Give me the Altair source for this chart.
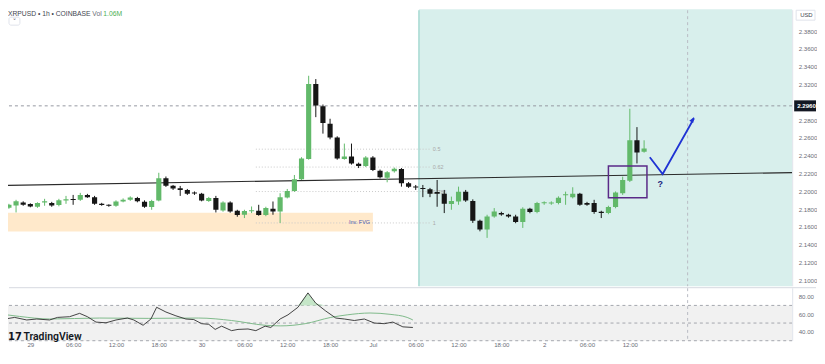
import altair as alt
import pandas as pd

# ---------------- data ----------------
TICK_HOURS = [0, 6, 12, 18, 24, 30, 36, 42, 48, 54, 60, 66, 72, 78, 84]  # hours since 29 Jun 00:00
TICK_LABELS = ["29", "06:00", "12:00", "18:00", "30", "06:00", "12:00", "18:00",
               "Jul", "06:00", "12:00", "18:00", "2", "06:00", "12:00"]

FIRST_HOUR = -4  # first candle: 28 Jun 20:00
OPEN = [2.1856, 2.1814, 2.1840, 2.1874, 2.1856, 2.1826, 2.1875, 2.1867, 2.1845, 2.1897,
        2.1904, 2.1904, 2.1959, 2.1934, 2.1859, 2.1848, 2.1837, 2.1885, 2.1904, 2.1923,
        2.1881, 2.1822, 2.1896, 2.2146, 2.2063, 2.2034, 2.2015, 2.1985, 2.1971, 2.1892,
        2.1923, 2.1784, 2.1874, 2.1781, 2.1736, 2.1775, 2.1781, 2.1733, 2.1803, 2.1773,
        2.1929, 2.2004, 2.2135, 2.2364, 2.3206, 2.2956, 2.2759, 2.2603, 2.2364, 2.2391,
        2.2309, 2.2283, 2.2380, 2.2231, 2.2152, 2.2224, 2.2249, 2.2090, 2.2045, 2.2038,
        2.2023, 2.1993, 2.1971, 2.1856, 2.1885, 2.1996, 2.1892, 2.1669, 2.1569, 2.1717,
        2.1755, 2.1736, 2.1717, 2.1655, 2.1803, 2.1766, 2.1866, 2.1862, 2.1867, 2.1955,
        2.1934, 2.1971, 2.1867, 2.1867, 2.1770, 2.1755, 2.1822, 2.1978, 2.2119, 2.2573,
        2.2443]
HIGH = [2.1870, 2.1859, 2.1904, 2.1887, 2.1865, 2.1876, 2.1915, 2.1881, 2.1915, 2.1948,
        2.1959, 2.1982, 2.1971, 2.1948, 2.1870, 2.1853, 2.1898, 2.1920, 2.1943, 2.1937,
        2.1898, 2.1904, 2.2208, 2.2166, 2.2071, 2.2060, 2.2026, 2.1998, 2.1982, 2.1937,
        2.1948, 2.1887, 2.1887, 2.1792, 2.1792, 2.1829, 2.1848, 2.1826, 2.1885, 2.1978,
        2.2026, 2.2183, 2.2383, 2.3298, 2.3261, 2.2975, 2.2815, 2.2618, 2.2536, 2.2536,
        2.2322, 2.2395, 2.2395, 2.2244, 2.2227, 2.2266, 2.2261, 2.2104, 2.2071, 2.2071,
        2.2038, 2.2127, 2.2015, 2.1940, 2.2052, 2.2015, 2.1909, 2.1681, 2.1736, 2.1811,
        2.1770, 2.1747, 2.1736, 2.1820, 2.1814, 2.1881, 2.1887, 2.1887, 2.1943, 2.1996,
        2.2045, 2.1982, 2.1881, 2.1904, 2.1781, 2.1837, 2.1998, 2.2164, 2.2927, 2.2721,
        2.2573]
LOW = [2.1803, 2.1803, 2.1762, 2.1837, 2.1820, 2.1814, 2.1837, 2.1826, 2.1831, 2.1859,
       2.1848, 2.1892, 2.1926, 2.1848, 2.1837, 2.1826, 2.1826, 2.1876, 2.1892, 2.1876,
       2.1814, 2.1792, 2.1887, 2.2049, 2.2015, 2.1948, 2.1959, 2.1959, 2.1887, 2.1881,
       2.1762, 2.1770, 2.1759, 2.1714, 2.1699, 2.1755, 2.1725, 2.1720, 2.1736, 2.1644,
       2.1920, 2.1993, 2.2127, 2.2355, 2.2833, 2.2648, 2.2584, 2.2355, 2.2355, 2.2300,
       2.2261, 2.2272, 2.2227, 2.2144, 2.2101, 2.2210, 2.2052, 2.2038, 2.2015, 2.1934,
       2.1934, 2.1826, 2.1755, 2.1792, 2.1848, 2.1881, 2.1644, 2.1550, 2.1476, 2.1703,
       2.1725, 2.1703, 2.1641, 2.1588, 2.1753, 2.1753, 2.1848, 2.1848, 2.1853, 2.1848,
       2.1920, 2.1837, 2.1837, 2.1747, 2.1699, 2.1742, 2.1809, 2.1959, 2.2104, 2.2313,
       2.2434]
CLOSE = [2.1818, 2.1848, 2.1889, 2.1848, 2.1829, 2.1867, 2.1880, 2.1840, 2.1900, 2.1900,
         2.1902, 2.1959, 2.1934, 2.1859, 2.1845, 2.1837, 2.1885, 2.1904, 2.1929, 2.1889,
         2.1826, 2.1892, 2.2146, 2.2063, 2.2030, 2.2015, 2.1971, 2.1974, 2.1896, 2.1923,
         2.1792, 2.1874, 2.1773, 2.1733, 2.1778, 2.1778, 2.1733, 2.1811, 2.1773, 2.1934,
         2.2004, 2.2135, 2.2369, 2.3206, 2.2963, 2.2766, 2.2603, 2.2369, 2.2391, 2.2313,
         2.2283, 2.2380, 2.2238, 2.2157, 2.2213, 2.2253, 2.2090, 2.2052, 2.2043, 2.2026,
         2.1971, 2.1971, 2.1859, 2.1892, 2.1996, 2.1896, 2.1669, 2.1569, 2.1717, 2.1773,
         2.1740, 2.1717, 2.1655, 2.1803, 2.1766, 2.1867, 2.1868, 2.1874, 2.1926, 2.1958,
         2.1971, 2.1848, 2.1848, 2.1766, 2.1755, 2.1822, 2.1985, 2.2127, 2.2573, 2.2436,
         2.2480]

PRICE_TICKS = [2.10, 2.12, 2.14, 2.16, 2.18, 2.20, 2.22, 2.24, 2.26, 2.28, 2.32, 2.34, 2.36, 2.38]
LAST_PRICE = 2.2960
LAST_LABEL = "2.2960"

TREND_H = [-4.25, 106.75]
TREND_P = [2.2065, 2.2210]

FVG_H = [-4.25, 48.0]
FVG_P = [2.1547, 2.1759]
FVG_LABEL = "Inv. FVG"
FVG_LABEL_AT = [47.6, 2.1658]

FIB_LEVELS = ["0.5", "0.62", "0.786", "1"]
FIB_PRICES = [2.2473, 2.2272, 2.1997, 2.1644]
FIB_H = [31.6, 56.0]
FIB_LABEL_H = 56.4

ZONE_START_H = 54.45
VLINE_H = 92.1

BOX_H = [81.0, 86.4]
BOX_P = [2.1926, 2.2283]

ARROW_H = [86.8, 88.6, 93.0]
ARROW_P = [2.2383, 2.2194, 2.2820]
ARROW_HEAD = [92.75, 2.2800]
QMARK_AT = [88.25, 2.2082]

HEADER = "XRPUSD • 1h • COINBASE"
VOL_LABEL = "Vol"
VOL_VALUE = "1.06M"

RSI_H = [-4.0, -2.2, -0.5, 0.9, 2.7, 3.8, 5.5, 6.9, 8.0, 9.2, 10.6, 12.0, 13.6, 14.5, 15.8,
         16.9, 17.7, 19.0, 20.4, 21.8, 22.9, 24.0, 25.0, 25.9, 26.8, 28.2, 29.1, 30.5, 31.6,
         32.9, 33.7, 35.0, 36.1, 37.5, 38.9, 40.0, 41.4, 42.8, 44.0, 45.4, 46.8, 48.2, 49.6,
         50.8, 52.2, 53.6]
RSI_V = [54.0, 56.4, 53.5, 54.6, 53.5, 56.4, 57.2, 61.0, 57.2, 51.1, 50.3, 53.5, 55.7, 53.5,
         47.5, 54.6, 67.9, 62.5, 58.2, 54.6, 54.0, 49.3, 48.6, 42.8, 46.5, 41.4, 42.8, 43.3,
         41.4, 46.5, 45.0, 54.6, 59.3, 67.9, 84.2, 72.5, 63.6, 55.7, 54.6, 52.9, 54.6, 50.0,
         49.3, 51.1, 45.7, 45.0]
MA_H = [-4.0, -1.5, 2.7, 9.7, 16.6, 23.6, 28.2, 32.9, 35.1, 38.5, 42.1, 44.4, 47.6, 50.4, 52.8, 53.6]
MA_V = [60.0, 57.5, 54.6, 55.7, 55.3, 55.7, 52.9, 47.5, 46.8, 49.3, 56.4, 59.3, 61.4, 59.9, 56.4, 53.5]
RSI_TICKS = [40, 60, 80]
RSI_LEVELS = [70, 50, 30]
RSI_UPPER = 70
RSI_LOWER = 30

# ---------------- layout / style ----------------
W, H1, H2 = 790, 279, 54
X_DOMAIN = [-3.129, 106.75]
P_DOMAIN = [2.09331, 2.40456]
R_DOMAIN = [29.9, 90.64]
FONT = "Liberation Sans"
GREEN = "#62b96a"
BLACK = "#161616"
TEAL = "#d8efec"
TEAL_EDGE = "#86cbc1"
FVG_FILL = "#ffe9cb"
PURPLE = "#5a2a88"
BLUE = "#1f33d4"
NAVY = "#1c2580"
AXIS_TXT = "#6b6e78"
GRID = "#e0e3eb"

xs = alt.Scale(domain=X_DOMAIN, nice=False, zero=False)
ps = alt.Scale(domain=P_DOMAIN, nice=False, zero=False)
rs = alt.Scale(domain=R_DOMAIN, nice=False, zero=False)

label_expr = "[" + ",".join("'" + s + "'" for s in TICK_LABELS) + "][round(datum.value / 6)]"
x_axis = alt.Axis(values=TICK_HOURS, labelExpr=label_expr, ticks=False, tickSize=0, domain=False,
                  grid=False, labelFontSize=6.2, labelColor=AXIS_TXT, labelFont=FONT, labelPadding=1,
                  labelFlush=False, labelOverlap=False, title=None)
price_axis = alt.Axis(orient="right", values=PRICE_TICKS, format=".4f", labelFontSize=6.2,
                      labelColor=AXIS_TXT, labelFont=FONT, ticks=False, tickSize=0, domain=False,
                      grid=False, labelPadding=6, labelFlush=False, labelOverlap=False, title=None)
rsi_axis = alt.Axis(orient="right", values=RSI_TICKS, format=".2f", labelFontSize=6.2,
                    labelColor=AXIS_TXT, labelFont=FONT, ticks=False, tickSize=0, domain=False,
                    grid=False, labelPadding=6, labelFlush=False, labelOverlap=False, title=None)


def XP(f):  # x in the price pane (no axis)
    return alt.X(f, type="quantitative", scale=xs, axis=None)


def XR(f):  # x in the RSI pane (time axis)
    return alt.X(f, type="quantitative", scale=xs, axis=x_axis)


def P(f):
    return alt.Y(f, type="quantitative", scale=ps, axis=price_axis)


def R(f):
    return alt.Y(f, type="quantitative", scale=rs, axis=rsi_axis)


candles = pd.DataFrame({"h": [FIRST_HOUR + i for i in range(len(OPEN))],
                        "o": OPEN, "hi": HIGH, "lo": LOW, "c": CLOSE})
candles["dir"] = ["up" if c >= o else "down" for o, c in zip(OPEN, CLOSE)]
dir_color = alt.Color("dir:N", scale=alt.Scale(domain=["up", "down"], range=[GREEN, BLACK]), legend=None)

zone = alt.Chart(pd.DataFrame({"h": [ZONE_START_H]})).mark_rect(color=TEAL).encode(
    x=XP("h"), x2=alt.value(W), y=alt.value(0), y2=alt.value(H1))
zone_edge = alt.Chart(pd.DataFrame({"h": [ZONE_START_H]})).mark_rule(color=TEAL_EDGE, strokeWidth=1).encode(
    x=XP("h"), y=alt.value(1), y2=alt.value(H1))

fvg = alt.Chart(pd.DataFrame({"h1": [FVG_H[0]], "h2": [FVG_H[1]], "p1": [FVG_P[0]], "p2": [FVG_P[1]]})
                ).mark_rect(color=FVG_FILL, clip=True).encode(x=XP("h1"), x2="h2:Q", y=P("p1"), y2="p2:Q")
fvg_lab = alt.Chart(pd.DataFrame({"h": [FVG_LABEL_AT[0]], "p": [FVG_LABEL_AT[1]], "t": [FVG_LABEL]})
                    ).mark_text(align="right", baseline="middle", fontSize=5.5, color="#4657b0", font=FONT
                                ).encode(x=XP("h"), y=P("p"), text="t:N")

fib_df = pd.DataFrame({"p": FIB_PRICES, "t": FIB_LEVELS, "h1": FIB_H[0], "h2": FIB_H[1], "hl": FIB_LABEL_H})
fib_lines = alt.Chart(fib_df).mark_rule(color="#c9c9c9", strokeDash=[1, 2], strokeWidth=1).encode(
    x=XP("h1"), x2="h2:Q", y=P("p"))
fib_labels = alt.Chart(fib_df).mark_text(align="left", baseline="middle", fontSize=5.5, color="#a8a8a8",
                                         font=FONT).encode(x=XP("hl"), y=P("p"), text="t:N")

last_line = alt.Chart(pd.DataFrame({"p": [LAST_PRICE]})).mark_rule(
    color="#9598a1", strokeDash=[3, 3], strokeWidth=1).encode(
    y=P("p"), x=alt.value(1), x2=alt.value(W))
vline = alt.Chart(pd.DataFrame({"h": [VLINE_H]})).mark_rule(
    color="#b8bbc4", strokeDash=[3, 3], strokeWidth=1).encode(x=XP("h"), y=alt.value(1), y2=alt.value(H1))

trend = alt.Chart(pd.DataFrame({"h": TREND_H, "p": TREND_P})).mark_line(
    color="#2b2b2b", strokeWidth=1.1, clip=True).encode(x=XP("h"), y=P("p"))

wicks = alt.Chart(candles).mark_rule(strokeWidth=1, clip=True).encode(
    x=XP("h"), y=P("lo"), y2="hi:Q", color=dir_color)
bodies = alt.Chart(candles).transform_calculate(
    x1="datum.h - 0.36", x2="datum.h + 0.36",
    top="max(datum.o, datum.c, min(datum.o, datum.c) + 0.0012)",
    bot="min(datum.o, datum.c)").mark_rect(clip=True).encode(
    x=XP("x1"), x2="x2:Q", y=P("bot"), y2="top:Q", color=dir_color)

box = alt.Chart(pd.DataFrame({"h1": [BOX_H[0]], "h2": [BOX_H[1]], "p1": [BOX_P[0]], "p2": [BOX_P[1]]})
                ).mark_rect(fillOpacity=0, stroke=PURPLE, strokeWidth=1.5).encode(
    x=XP("h1"), x2="h2:Q", y=P("p1"), y2="p2:Q")

arrow = alt.Chart(pd.DataFrame({"h": ARROW_H, "p": ARROW_P, "k": [0, 1, 2]})).mark_line(
    color=BLUE, strokeWidth=1.8).encode(x=XP("h"), y=P("p"), order="k:Q")
arrow_head = alt.Chart(pd.DataFrame({"h": [ARROW_HEAD[0]], "p": [ARROW_HEAD[1]]})).mark_point(
    shape="M0,-1L0.6,0.55L-0.6,0.55Z", angle=30, size=55, filled=True, color=BLUE, opacity=1).encode(
    x=XP("h"), y=P("p"))
qmark = alt.Chart(pd.DataFrame({"h": [QMARK_AT[0]], "p": [QMARK_AT[1]], "t": ["?"]})).mark_text(
    fontSize=9, fontWeight="bold", color=NAVY, font=FONT, baseline="middle").encode(
    x=XP("h"), y=P("p"), text="t:N")

last_box = alt.Chart(pd.DataFrame({"p": [LAST_PRICE]})).transform_calculate(
    a="datum.p + 0.0062", b="datum.p - 0.0062").mark_rect(color="#131722").encode(
    x=alt.value(W + 2), x2=alt.value(W + 24), y=P("a"), y2="b:Q")
last_txt = alt.Chart(pd.DataFrame({"p": [LAST_PRICE], "t": [LAST_LABEL]})).mark_text(
    align="left", baseline="middle", fontSize=6.2, fontWeight="bold", color="white", font=FONT).encode(
    x=alt.value(W + 5), y=P("p"), text="t:N")

usd_box = alt.Chart(pd.DataFrame({"t": ["USD"]})).mark_rect(
    fillOpacity=0, stroke=GRID, strokeWidth=1).encode(
    x=alt.value(W + 4), x2=alt.value(W + 23), y=alt.value(1), y2=alt.value(11))
usd_txt = alt.Chart(pd.DataFrame({"t": ["USD"]})).mark_text(
    align="left", baseline="middle", fontSize=6, color="#434651", font=FONT).encode(
    x=alt.value(W + 8), y=alt.value(6), text="t:N")

right_edge = alt.Chart(pd.DataFrame({"t": [0]})).mark_rule(color=GRID, strokeWidth=1).encode(
    x=alt.value(W + 0.5), y=alt.value(1), y2=alt.value(H1))

hdr = alt.Chart(pd.DataFrame({"t": [HEADER]})).mark_text(
    align="left", baseline="alphabetic", fontSize=6.8, color="#434651", font=FONT).encode(
    x=alt.value(0), y=alt.value(7), text="t:N")
hdr_vol = alt.Chart(pd.DataFrame({"t": [VOL_LABEL]})).mark_text(
    align="left", baseline="alphabetic", fontSize=6.8, color="#6b6e78", font=FONT).encode(
    x=alt.value(85), y=alt.value(7), text="t:N")
hdr_val = alt.Chart(pd.DataFrame({"t": [VOL_VALUE]})).mark_text(
    align="left", baseline="alphabetic", fontSize=6.8, color="#4caf50", font=FONT).encode(
    x=alt.value(96), y=alt.value(7), text="t:N")
dd_box = alt.Chart(pd.DataFrame({"t": [0]})).mark_rect(
    fillOpacity=0, stroke=GRID, strokeWidth=1, cornerRadius=2).encode(
    x=alt.value(1), x2=alt.value(12), y=alt.value(8), y2=alt.value(16))
dd_chev = alt.Chart(pd.DataFrame({"t": ["˅"]})).mark_text(
    align="center", baseline="middle", fontSize=7, color="#434651", font="DejaVu Sans").encode(
    x=alt.value(6.5), y=alt.value(12.5), text="t:N")

price = alt.layer(zone, zone_edge, fvg, fib_lines, fib_labels, fvg_lab, last_line, vline, trend,
                  wicks, bodies, box, arrow, arrow_head, qmark, last_box, last_txt, usd_box, usd_txt,
                  right_edge, hdr, hdr_vol, hdr_val, dd_box, dd_chev).properties(width=W, height=H1)

# ---------------- RSI pane ----------------
rsi_df = pd.DataFrame({"h": RSI_H, "v": RSI_V})
band = alt.Chart(pd.DataFrame({"a": [RSI_UPPER], "b": [RSI_LOWER]})).mark_rect(color="#f1f1f1").encode(
    x=alt.value(0), x2=alt.value(W), y=R("a"), y2="b:Q")
levels = alt.Chart(pd.DataFrame({"v": RSI_LEVELS})).mark_rule(
    color="#a3a6ad", strokeDash=[3, 3], strokeWidth=1).encode(y=R("v"), x=alt.value(1), x2=alt.value(W))
vline2 = alt.Chart(pd.DataFrame({"h": [VLINE_H]})).mark_rule(
    color="#b8bbc4", strokeDash=[3, 3], strokeWidth=1).encode(x=XR("h"), y=alt.value(1), y2=alt.value(H2))
ob_fill = alt.Chart(rsi_df).transform_calculate(
    top="max(datum.v, %d)" % RSI_UPPER, base="%d" % RSI_UPPER).mark_area(
    color="#bfe3c2", opacity=0.9, clip=True).encode(x=XR("h"), y=R("top"), y2="base:Q")
ma_line = alt.Chart(pd.DataFrame({"h": MA_H, "v": MA_V})).mark_line(
    color="#7fb98a", strokeWidth=1, interpolate="monotone", clip=True).encode(x=XR("h"), y=R("v"))
rsi_line = alt.Chart(rsi_df).mark_line(color="#2e2e2e", strokeWidth=0.9, clip=True).encode(
    x=XR("h"), y=R("v"))
sep = alt.Chart(pd.DataFrame({"t": [0]})).mark_rule(color="#d6d9e0", strokeWidth=1).encode(
    x=alt.value(1), x2=alt.value(W + 24), y=alt.value(0.5))
right_edge2 = alt.Chart(pd.DataFrame({"t": [0]})).mark_rule(color=GRID, strokeWidth=1).encode(
    x=alt.value(W + 0.5), y=alt.value(1), y2=alt.value(H2))
logo = alt.Chart(pd.DataFrame({"t": ["17"]})).mark_text(
    align="left", baseline="alphabetic", fontSize=10, fontWeight="bold", color="#131722",
    font="DejaVu Sans").encode(x=alt.value(0), y=alt.value(53), text="t:N")
logo_txt = alt.Chart(pd.DataFrame({"t": ["TradingView"]})).mark_text(
    align="left", baseline="alphabetic", fontSize=10.5, fontWeight=600, color="#131722",
    font="Roboto").encode(x=alt.value(15.5), y=alt.value(53), text="t:N")

rsi = alt.layer(band, levels, vline2, ob_fill, ma_line, rsi_line, sep, right_edge2, logo, logo_txt
                ).properties(width=W, height=H2)

chart = alt.vconcat(price, rsi, spacing=1, bounds="flush").properties(
    padding={"left": 0, "top": 0, "right": 0, "bottom": 0}
).configure_view(strokeWidth=0).configure_concat(spacing=1)

chart.save("out.html", embed_options={"renderer": "svg", "actions": False})
